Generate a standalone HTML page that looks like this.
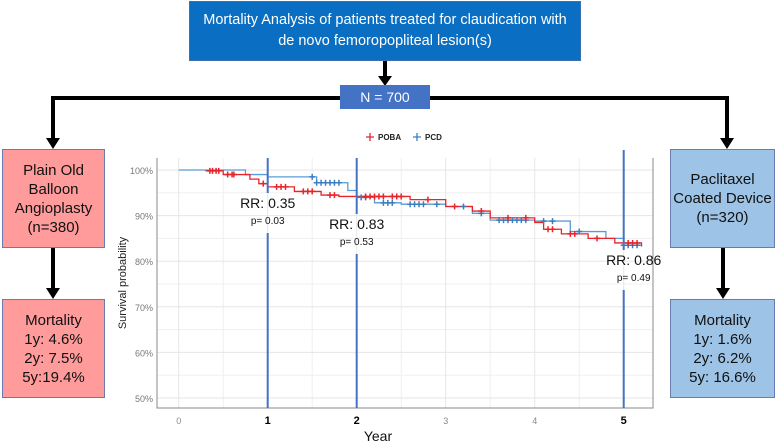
<!DOCTYPE html>
<html><head><meta charset="utf-8"><style>
body{margin:0;background:#fff;width:778px;height:445px;overflow:hidden;font-family:"Liberation Sans",sans-serif}
.box{position:absolute;z-index:2;box-sizing:border-box;display:flex;align-items:center;justify-content:center;text-align:center;color:#111;font-size:15px;line-height:19px}
</style></head><body>
<svg width="778" height="445" style="position:absolute;left:0;top:0;z-index:1">
<g stroke="#000" stroke-width="4" fill="none">
<line x1="385" y1="61" x2="385" y2="78"/><path d="M340 98H53V140"/><path d="M430 98H727V140"/>
<line x1="53" y1="248" x2="53" y2="290"/><line x1="723" y1="248" x2="723" y2="290"/>
</g>
<g fill="#000"><path d="M378 76h14l-7 10z"/><path d="M46 138h14l-7 11z"/><path d="M720 138h14l-7 11z"/><path d="M46 288h14l-7 11z"/><path d="M716 288h14l-7 11z"/></g>
<g id="plot"></g>
</svg>
<div class="box" style="left:189px;top:1px;width:392px;height:60px;background:#0a6fc2;border:1px solid #3b6fb0;color:#fff;font-size:14.5px;line-height:21px">Mortality Analysis of patients treated for claudication with<br>de novo femoropopliteal lesion(s)</div>
<div class="box" style="left:340px;top:85px;width:90px;height:24px;background:#4472c4;color:#fff;font-size:14px">N = 700</div>
<div class="box" style="left:2px;top:149px;width:103px;height:99px;background:#ff9b9b;border:1px solid #6a7bb0">Plain Old<br>Balloon<br>Angioplasty<br>(n=380)</div>
<div class="box" style="left:2px;top:299px;width:103px;height:99px;background:#ff9b9b;border:1px solid #6a7bb0">Mortality<br>1y: 4.6%<br>2y: 7.5%<br>5y:19.4%</div>
<div class="box" style="left:670px;top:149px;width:105px;height:99px;background:#9dc3e6;border:1px solid #6a7bb0">Paclitaxel<br>Coated Device<br>(n=320)</div>
<div class="box" style="left:670px;top:299px;width:105px;height:99px;background:#9dc3e6;border:1px solid #6a7bb0">Mortality<br>1y: 1.6%<br>2y: 6.2%<br>5y: 16.6%</div>
<script>
const xTicks=[0,1,2,3,4,5];
const yTicks=[50,60,70,80,90,100];
const pobaT=[0.3,0.5,0.8,0.9,1.0,1.3,1.6,1.8,2.6,3.0,3.3,3.5,4.0,4.1,4.3,4.6,4.9,5.2];
const pobaS=[99.8,99,98,97,96.3,95.3,94.5,94.2,93.5,92,91,89.5,88.5,87,86,85,84,83.3];
const pcdT=[0,0.75,1.0,1.55,1.9,2.0,2.2,2.5,3.0,3.3,3.5,4.0,4.4,4.8,5.0,5.2];
const pcdS=[100,99,98.5,97.2,95.5,94,92.8,92.5,92,90.5,89,88.8,86.5,85,83.5,83.2];
const pobaCens=[0.35,0.38,0.42,0.45,0.55,0.6,0.62,0.95,1.1,1.15,1.2,1.4,1.45,1.5,1.7,1.75,2.1,2.15,2.2,2.25,2.3,2.4,2.45,2.5,2.8,3.1,3.4,3.7,3.9,4.15,4.2,4.4,4.45,4.7,5.05,5.1,5.15];
const pcdCens=[1.5,1.55,1.6,1.65,1.7,1.75,1.8,2.05,2.1,2.3,2.35,2.4,2.6,2.65,2.7,2.75,2.9,3.2,3.4,3.6,3.65,3.7,3.75,3.8,3.85,3.9,4.1,4.2,4.5,5.0,5.05,5.1,5.15];
const rrX=[1,2,5];
const rrLabels=["RR: 0.35","RR: 0.83","RR: 0.86"];
const pLabels=["p=  0.03","p=  0.53","p=  0.49"];
const rrY=[208,229,265];
const X=t=>178.7+t*89, Y=v=>170+(100-v)*4.56;
const NS="http://www.w3.org/2000/svg", g=document.getElementById('plot');
function mk(tag,a,p){const e=document.createElementNS(NS,tag);for(const k in a)e.setAttribute(k,a[k]);(p||g).appendChild(e);return e;}
const L=157,R=653,T=158,B=408;
for(let i=0;i<5;i++){const v=55+i*10;const gl=mk('line',{x1:L,x2:R,y1:Y(v),y2:Y(v),stroke:'#f0f0f0'});}
for(let t=0.5;t<5.3;t+=1){mk('line',{x1:X(t),x2:X(t),y1:T,y2:B,stroke:'#f0f0f0'});}
yTicks.forEach(v=>{const gl=mk('line',{x1:L,x2:R,y1:Y(v),y2:Y(v),stroke:'#e6e6e6'});
const tx=mk('text',{x:L-4,y:Y(v)+4,'text-anchor':'end','font-size':9,fill:'#777'});tx.textContent=v+'%';});
xTicks.forEach(t=>{mk('line',{x1:X(t),x2:X(t),y1:T,y2:B,stroke:'#e6e6e6'});
const b=rrX.includes(t);const tx=mk('text',{x:X(t),y:424,'text-anchor':'middle','font-size':b?11:9,'font-weight':b?'bold':'normal',fill:b?'#000':'#888'});tx.textContent=t;});
const fr=mk('path',{d:`M${L} ${T}V${B}H${R}V${T}`,fill:'none',stroke:'#888'});
function step(T_,S_,c,name){let d=`M${X(T_[0])} ${Y(S_[0])}`;for(let i=1;i<T_.length;i++){d+=`H${X(T_[i])}V${Y(S_[i])}`;}
const p=mk('path',{d,fill:'none',stroke:c,'stroke-width':1.3});}
function sAt(T_,S_,t){let s=S_[0];for(let i=0;i<T_.length;i++)if(T_[i]<=t)s=S_[i];return s;}
function cens(arr,T_,S_,c,name){arr.forEach(t=>{const x=X(t),y=Y(sAt(T_,S_,t));const m=mk('path',{d:`M${x-3} ${y}H${x+3}M${x} ${y-3}V${y+3}`,stroke:c,'stroke-width':1.5});});}
step(pcdT,pcdS,'#5b9bd5','pcd-curve');step(pobaT,pobaS,'#e8242a','poba-curve');
cens(pcdCens,pcdT,pcdS,'#3a7fc0','pcd-censor-mark');cens(pobaCens,pobaT,pobaS,'#e8242a','poba-censor-mark');
rrX.forEach((t,i)=>{const x=X(t);const top=i==2?150:T;
const l1=mk('line',{x1:x,x2:x,y1:top,y2:rrY[i]-15,stroke:'#4472c4','stroke-width':2});
mk('line',{x1:x,x2:x,y1:rrY[i]+25,y2:B,stroke:'#4472c4','stroke-width':2});
const a=mk('text',{x:i==2?x+10:x,y:rrY[i],'text-anchor':'middle','font-size':14,fill:'#111'});a.textContent=rrLabels[i];
const p=mk('text',{x:i==2?x+10:x,y:rrY[i]+16,'text-anchor':'middle','font-size':10,fill:'#111'});p.textContent=pLabels[i];});
const yl=mk('text',{x:126,y:283,'text-anchor':'middle','font-size':11,fill:'#222',transform:'rotate(-90 126 283)'});yl.textContent='Survival probability';
const xl=mk('text',{x:378,y:441,'text-anchor':'middle','font-size':14,fill:'#111'});xl.textContent='Year';
[['POBA','#e8242a',370],['PCD','#3a7fc0',417]].forEach(([n,c,x])=>{const m=mk('path',{d:`M${x-4} 137H${x+4}M${x} 133V141`,stroke:c,'stroke-width':1.3});
const t=mk('text',{x:x+8,y:140,'font-size':8,'font-weight':'bold',fill:'#222'});t.textContent=n;});
</script>
</body></html>
